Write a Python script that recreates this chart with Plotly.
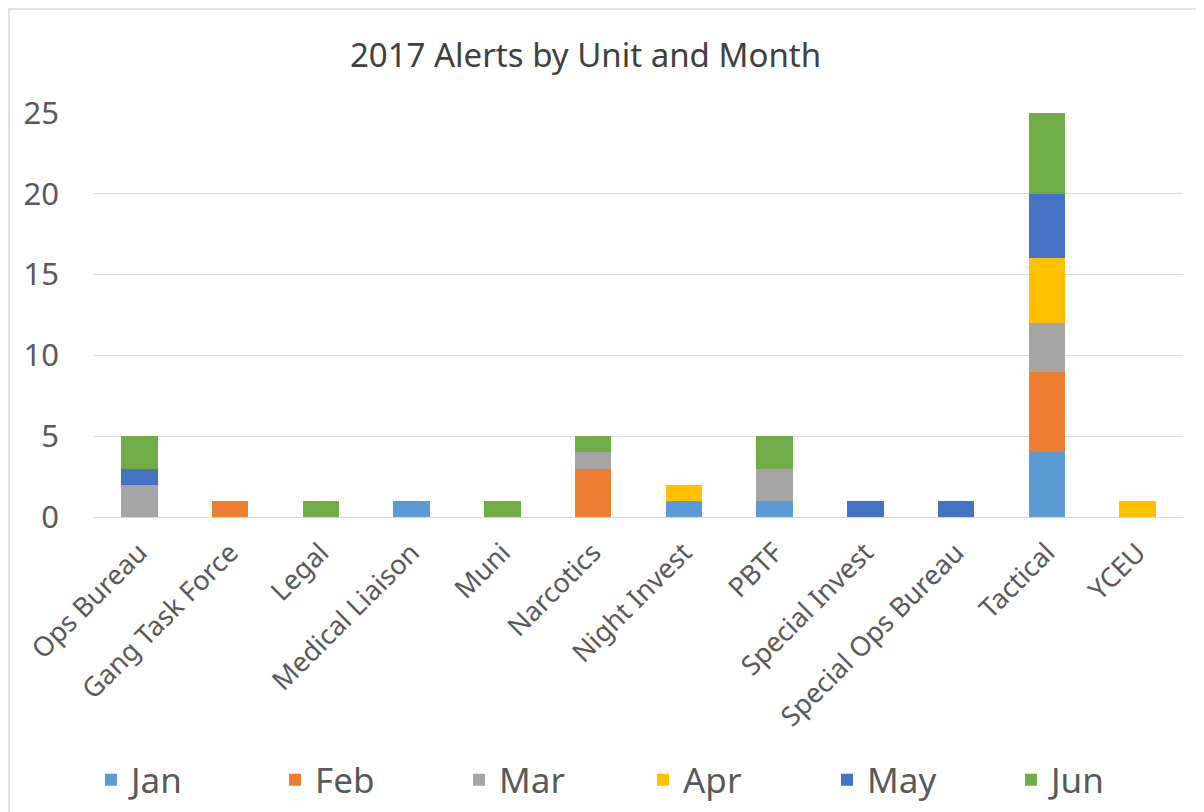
import plotly.graph_objects as go

units = ["Ops Bureau", "Gang Task Force", "Legal", "Medical Liaison", "Muni", "Narcotics",
         "Night Invest", "PBTF", "Special Invest", "Special Ops Bureau", "Tactical", "YCEU"]
months = ["Jan", "Feb", "Mar", "Apr", "May", "Jun"]
jan = [0, 0, 0, 1, 0, 0, 1, 1, 0, 0, 4, 0]
feb = [0, 1, 0, 0, 0, 3, 0, 0, 0, 0, 5, 0]
mar = [2, 0, 0, 0, 0, 1, 0, 2, 0, 0, 3, 0]
apr = [0, 0, 0, 0, 0, 0, 1, 0, 0, 0, 4, 1]
may = [1, 0, 0, 0, 0, 0, 0, 0, 1, 1, 4, 0]
jun = [2, 0, 1, 0, 1, 1, 0, 2, 0, 0, 5, 0]
colors = ["#5B9BD5", "#ED7D31", "#A5A5A5", "#FFC000", "#4472C4", "#70AD47"]

series = [jan, feb, mar, apr, may, jun]
FONT = "Noto Sans"
TXT = "#595959"

# page has an 8px body margin, so the figure is drawn at (8, 8)
W, H = 1196, 804
L, T = 86, 105
PW = 1089
PH = 404
R = W - L - PW
B = H - T - PH

fig = go.Figure()
for name, vals, col in zip(months, series, colors):
    fig.add_trace(go.Bar(
        x=units, y=[v if v else None for v in vals], name=name,
        marker=dict(color=col, line=dict(width=0)),
    ))

fig.update_layout(
    barmode="stack",
    bargap=0.6,
    width=W, height=H,
    margin=dict(l=L, r=R, t=T, b=B, autoexpand=False),
    paper_bgcolor="white", plot_bgcolor="white",
    font=dict(family=FONT, color=TXT),
    title=dict(text="2017 Alerts by Unit and Month", x=577.5 / W, xanchor="center",
               y=1 - 47 / H, yanchor="middle", automargin=False,
               font=dict(family=FONT, size=33, color="#404040")),
    xaxis=dict(tickangle=-45, tickfont=dict(size=27, color=TXT), showgrid=False,
               showline=True, linecolor="#D9D9D9", linewidth=1, ticks="",
               automargin=False, ticklabelstandoff=8),
    yaxis=dict(range=[0, 25], dtick=5, tickfont=dict(size=31, color=TXT),
               showgrid=True, gridcolor="#D9D9D9", gridwidth=1, zeroline=False,
               ticks="", ticklabelstandoff=34, automargin=False),
    legend=dict(orientation="h",
                x=(83 - L) / PW, xanchor="left", y=(T + PH - 772) / PH, yanchor="middle",
                font=dict(size=35, color=TXT), entrywidth=139, entrywidthmode="pixels",
                traceorder="normal", bgcolor="rgba(0,0,0,0)"),
    showlegend=True,
)
fig.add_shape(type="rect", xref="paper", yref="paper",
              x0=(1 - L) / PW, x1=(W + 10 - L) / PW,
              y0=(T + PH - H - 10) / PH, y1=(T + PH - 1) / PH,
              line=dict(color="#D9D9D9", width=1.5), fillcolor="rgba(0,0,0,0)", layer="below")

fig.write_html("out.html")
